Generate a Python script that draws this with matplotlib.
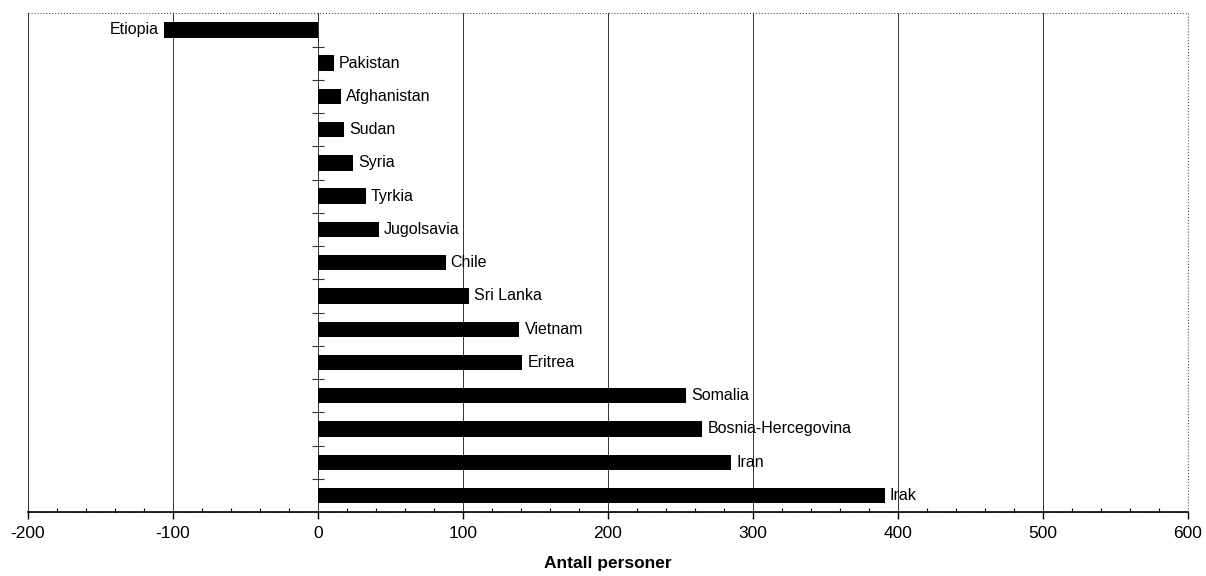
import matplotlib.pyplot as plt
from matplotlib.patches import Rectangle
from matplotlib.ticker import MultipleLocator

plt.rcParams['font.family'] = ['Liberation Sans', 'DejaVu Sans']

# ---- data (top to bottom) ----
countries = ["Etiopia", "Pakistan", "Afghanistan", "Sudan", "Syria", "Tyrkia",
             "Jugolsavia", "Chile", "Sri Lanka", "Vietnam", "Eritrea",
             "Somalia", "Bosnia-Hercegovina", "Iran", "Irak"]
values = [-106, 11, 16, 18, 24, 33, 42, 88, 104, 139, 141, 254, 265, 285, 391]
x_ticks = [-200, -100, 0, 100, 200, 300, 400, 500, 600]

fig = plt.figure(figsize=(12.06, 5.76), dpi=100)
ax = fig.add_axes([0.0232, 0.111, 0.9618, 0.866])

pos = list(range(len(countries)))
ax.barh(pos, values, height=0.46, color="black", zorder=3)

for p, v, name in zip(pos, values, countries):
    if v < 0:
        ax.text(v - 3.5, p, name, ha="right", va="center", fontsize=11.5, zorder=4)
    else:
        ax.text(v + 3.5, p, name, ha="left", va="center", fontsize=11.5, zorder=4)

ax.set_xlim(-200, 600)
ax.set_ylim(len(countries) - 0.5, -0.5)
ax.set_xticks(x_ticks)
ax.set_xticklabels([str(t) for t in x_ticks], fontsize=12.5)
ax.xaxis.set_minor_locator(MultipleLocator(20))
ax.tick_params(axis="x", which="major", direction="out", length=5, width=1, pad=5)
ax.tick_params(axis="x", which="minor", direction="in", length=3, width=0.8)
ax.grid(axis="x", color="#333333", linewidth=0.7, zorder=1)
ax.set_xlabel("Antall personer", fontsize=12.5, fontweight="bold", labelpad=11)

# category ticks at the zero line, between bars
ax.set_yticks([p + 0.5 for p in pos[:-1]])
ax.set_yticklabels([])
ax.spines["left"].set_position(("data", 0))
ax.spines["left"].set_visible(False)
ax.tick_params(axis="y", direction="inout", length=8, width=0.8, color="#333333")

for s in ["top", "right"]:
    ax.spines[s].set_visible(False)
ax.spines["bottom"].set_linewidth(1.2)

# dotted frame around the plot area
ax.add_patch(Rectangle((0, 0), 1, 1, transform=ax.transAxes, fill=False,
                       linestyle=":", edgecolor="#555555", linewidth=0.8,
                       clip_on=False, zorder=0))

fig.savefig("out.png", dpi=100)
